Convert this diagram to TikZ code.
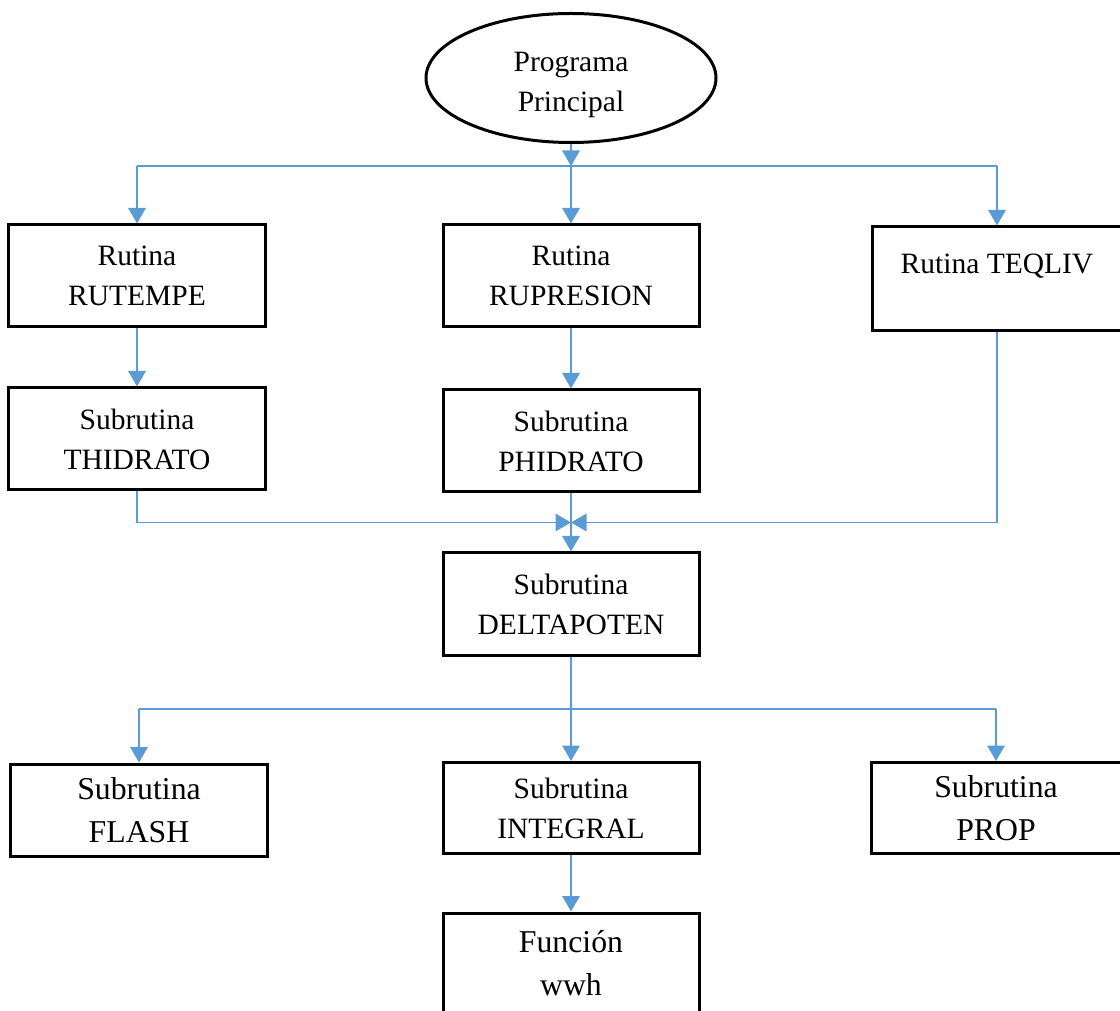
\documentclass[tikz,border=0pt]{standalone}
\usepackage{fontspec}
\setmainfont{Liberation Serif}
\usetikzlibrary{arrows.meta,shapes.geometric,calc}
\definecolor{linkblue}{RGB}{91,155,213}
\tikzset{
  blk/.style={draw=black, line width=1.2pt, fill=white, minimum width=102.4pt,
              minimum height=40.8pt, align=center, inner sep=2pt,
              font=\fontsize{11.8}{16}\selectfont},
  blkbig/.style={blk, font=\fontsize{12.7}{17}\selectfont},
  oval/.style={ellipse, draw=black, line width=1.2pt, minimum width=116pt,
               minimum height=51.6pt, inner sep=0pt, align=center,
               font=\fontsize{11.8}{16}\selectfont},
  flow/.style={-{Triangle[width=7pt,length=6.2pt]}, linkblue, line width=0.6pt},
  wire/.style={linkblue, line width=0.6pt},
}

\begin{document}
\begin{tikzpicture}[x=0.4pt, y=-0.4pt]
  \useasboundingbox (0,0) rectangle (1120,1011);
  % main program and first level routines
  \node[oval] (main) at (571,78) {\\[-3pt]Programa\\Principal};
  \node[blk] (rutempe) at (137,276) {Rutina\\RUTEMPE};
  \node[blk] (rupresion) at (571,276) {Rutina\\RUPRESION};
  \node[blk, minimum width=100pt, minimum height=41.6pt] (teqliv) at (997,279)
    {Rutina TEQLIV\\[-4pt]\mbox{}};
  % hydrate subroutines
  \node[blk] (thidrato) at (137,439) {Subrutina\\THIDRATO};
  \node[blk] (phidrato) at (571,441) {Subrutina\\PHIDRATO};
  \node[blk] (delta) at (571,604) {Subrutina\\DELTAPOTEN};
  % last level
  \node[blkbig, minimum height=36.8pt] (flash) at (139,810) {Subrutina\\FLASH};
  \node[blk, minimum height=36.4pt] (integral) at (571,808) {Subrutina\\INTEGRAL};
  \node[blkbig, minimum width=100pt, minimum height=36.4pt] (prop) at (996,808)
    {Subrutina\\PROP};
  \node[blkbig, minimum height=40pt] (funcion) at (571,963) {Función\\wwh};

  % program -> routines
  \coordinate (split) at (571,166);
  \draw[flow] (main.south) -- (split);
  \draw[wire] (split -| rutempe.north) -- (split -| teqliv.north);
  \draw[flow] (split -| rutempe.north) -- (rutempe.north);
  \draw[flow] (split) -- (rupresion.north);
  \draw[flow] (split -| teqliv.north) -- (teqliv.north);
  \draw[flow] (rutempe) -- (thidrato);
  \draw[flow] (rupresion) -- (phidrato);

  % everything meets above DELTAPOTEN
  \coordinate (merge) at ($(phidrato.south)!0.5!(delta.north)$);
  \draw[flow] (thidrato.south) |- (merge);
  \draw[flow] (teqliv.south) |- (merge);
  \draw[flow] (phidrato) -- (delta);

  % DELTAPOTEN -> subroutines
  \coordinate (fork) at ($(delta.south)!0.5!(integral.north)$);
  \draw[flow] (delta) -- (integral);
  \draw[wire] (fork -| flash.north) -- (fork -| prop.north);
  \draw[flow] (fork -| flash.north) -- (flash.north);
  \draw[flow] (fork -| prop.north) -- (prop.north);
  \draw[flow] (integral) -- (funcion);
\end{tikzpicture}
\end{document}
